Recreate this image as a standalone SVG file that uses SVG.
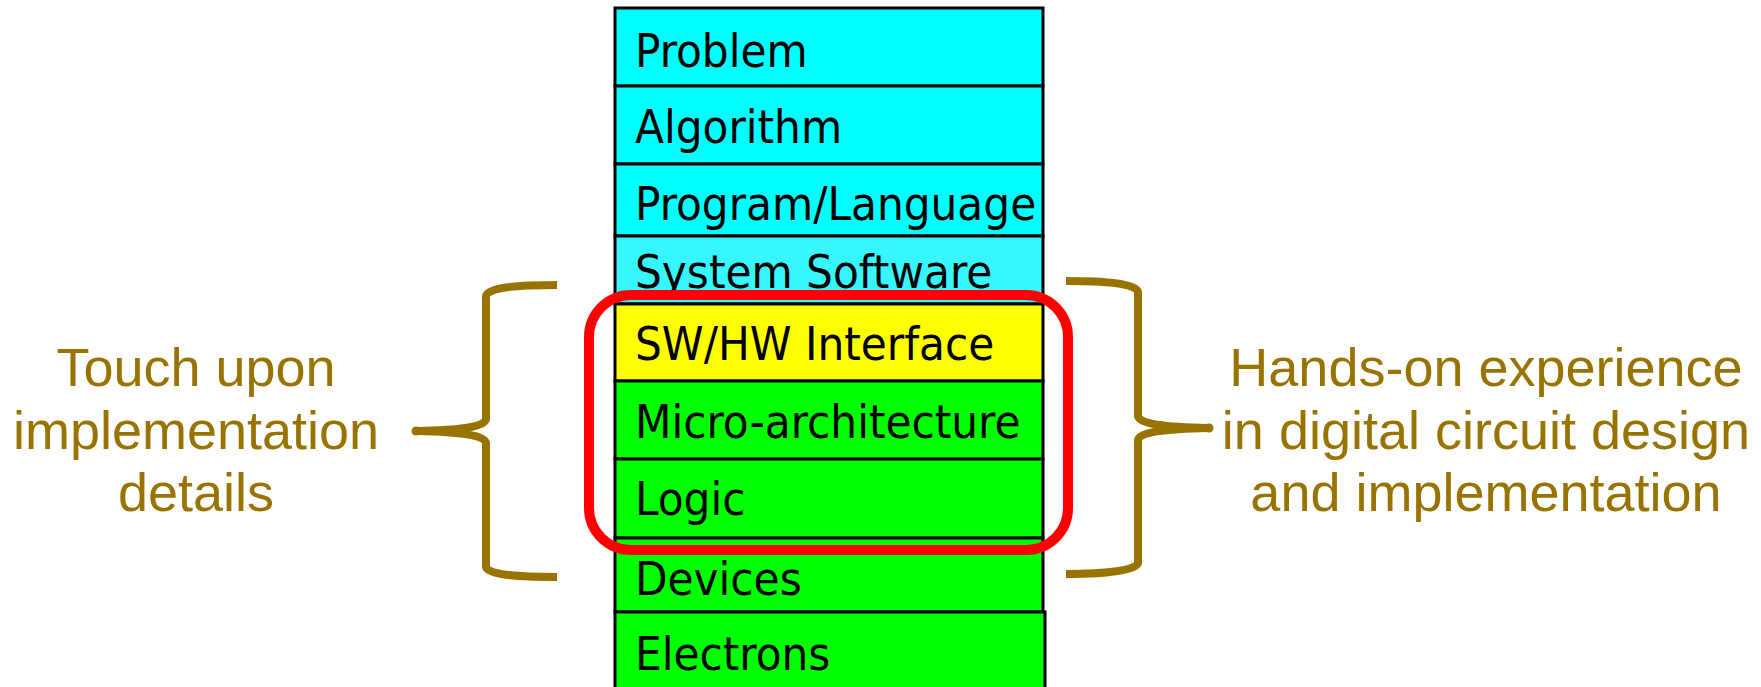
<svg xmlns="http://www.w3.org/2000/svg" width="1761" height="687" viewBox="0 0 1761 687">
  <style>
    .layer { stroke: #000000; stroke-width: 3; }
    .cyan { fill: #00FFFF; }
    .cyan2 { fill: #38F6FF; }
    .yellow { fill: #FFFF00; }
    .green { fill: #00FF00; }
    .lbl { font-family: "DejaVu Sans Condensed", "DejaVu Sans", sans-serif; font-stretch: condensed; font-size: 47px; fill: #000000; }
    .note { font-family: "Liberation Sans", Arial, sans-serif; font-size: 54px; fill: #997300; text-anchor: middle; }
    .brace { fill: none; stroke: #997300; stroke-width: 8; stroke-linejoin: round; }
    .focus { fill: none; stroke: #FF0000; stroke-width: 10; }
  </style>
  <rect width="1761" height="687" fill="#FFFFFF"/>

  <!-- abstraction stack -->
  <g id="problem"><rect class="layer cyan" x="615" y="8" width="428" height="78"/><text class="lbl" x="635" y="67">Problem</text></g>
  <g id="algorithm"><rect class="layer cyan" x="615" y="86" width="428" height="78"/><text class="lbl" x="635" y="143">Algorithm</text></g>
  <g id="program-language"><rect class="layer cyan" x="615" y="164" width="428" height="72"/><text class="lbl" x="635" y="220">Program/Language</text></g>
  <g id="system-software"><rect class="layer cyan2" x="615" y="236" width="428" height="68"/><text class="lbl" x="635" y="288">System Software</text></g>
  <g id="sw-hw-interface"><rect class="layer yellow" x="615" y="304" width="428" height="77"/><text class="lbl" x="635" y="360">SW/HW Interface</text></g>
  <g id="micro-architecture"><rect class="layer green" x="615" y="381" width="428" height="78"/><text class="lbl" x="635" y="438">Micro-architecture</text></g>
  <g id="logic"><rect class="layer green" x="615" y="459" width="428" height="79"/><text class="lbl" x="635" y="515">Logic</text></g>
  <g id="devices"><rect class="layer green" x="615" y="538" width="428" height="74"/><text class="lbl" x="635" y="595">Devices</text></g>
  <g id="electrons"><rect class="layer green" x="615" y="612" width="430" height="80"/><text class="lbl" x="635" y="670">Electrons</text></g>

  <!-- highlight and braces -->
  <g id="connectors">
    <rect class="focus" x="589" y="295" width="479" height="255" rx="42" ry="42"/>
    <path class="brace" d="M557,285 C520,285 488,287 486,296 L486,419 C485,427 460,430 417,431 C460,432 485,435 486,443 L486,567 C488,575 520,577 557,577"/>
    <circle cx="416" cy="431" r="4.5" fill="#997300"/>
    <path class="brace" d="M1066,281 C1103,281 1136,283 1138,292 L1138,416 C1139,424 1165,427 1208,428 C1165,429 1139,432 1138,440 L1138,563 C1136,571 1103,574 1066,574"/>
    <circle cx="1209" cy="428" r="4.5" fill="#997300"/>
  </g>

  <g id="note-left">
    <text class="note" x="196" y="386">Touch upon</text>
    <text class="note" x="196" y="449">implementation</text>
    <text class="note" x="196" y="511">details</text>
  </g>
  <g id="note-right">
    <text class="note" x="1486" y="386">Hands-on experience</text>
    <text class="note" x="1486" y="449">in digital circuit design</text>
    <text class="note" x="1486" y="511">and implementation</text>
  </g>
</svg>
